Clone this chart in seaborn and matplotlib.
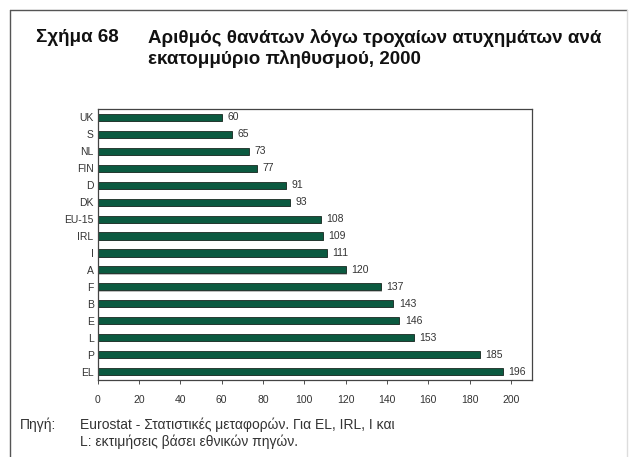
import matplotlib
matplotlib.use("Agg")
import matplotlib.pyplot as plt
import matplotlib.patheffects as pe
from matplotlib.lines import Line2D
import pandas as pd
import seaborn as sns

# Data
countries = ["UK", "S", "NL", "FIN", "D", "DK", "EU-15", "IRL", "I", "A",
             "F", "B", "E", "L", "P", "EL"]
deaths = [60, 65, 73, 77, 91, 93, 108, 109, 111, 120,
          137, 143, 146, 153, 185, 196]
x_ticks = [0, 20, 40, 60, 80, 100, 120, 140, 160, 180, 200]

title_num = "Σχήμα 68"
title_text = "Αριθμός θανάτων λόγω τροχαίων ατυχημάτων ανά\nεκατομμύριο πληθυσμού, 2000"
source_label = "Πηγή:"
source_text = "Eurostat - Στατιστικές μεταφορών. Για EL, IRL, I και\nL: εκτιμήσεις βάσει εθνικών πηγών."

df = pd.DataFrame({"country": countries, "deaths": deaths})

sns.set_theme(style="white")
plt.rcParams["font.family"] = ["Liberation Sans", "DejaVu Sans"]

fig = plt.figure(figsize=(6.29, 4.57), dpi=100)
ax = fig.add_axes([0.1553, 0.1685, 0.69, 0.593])

sns.barplot(data=df, x="deaths", y="country", order=countries, orient="h",
            color="#0b5a40", saturation=1, width=0.42, ax=ax,
            edgecolor="#1a2a22", linewidth=0.6)

for bar in ax.patches:
    bar.set_path_effects([pe.SimplePatchShadow(offset=(0.6, -0.8),
                                               shadow_rgbFace="#bdbdbd", alpha=1),
                          pe.Normal()])

for cont in ax.containers:
    ax.bar_label(cont, labels=[str(v) for v in deaths], padding=4,
                 fontsize=7.5, color="#333333")

ax.set_xlim(0, 210)
ax.set_ylim(15.5, -0.5)
ax.set_xticks(x_ticks)
ax.set_xlabel("")
ax.set_ylabel("")
ax.tick_params(axis="both", labelsize=7.5, colors="#333333", length=3,
               width=0.6, direction="out")
ax.tick_params(axis="x", pad=8)
ax.tick_params(axis="y", length=0, pad=3)
ax.xaxis.set_ticks_position("bottom")
for s in ax.spines.values():
    s.set_color("#444444")
    s.set_linewidth(0.9)

# outer frame
fw, fh = 629, 457
frame_kw = dict(transform=fig.transFigure, linewidth=1.0)
fig.add_artist(Line2D([10 / fw, 10 / fw], [0, 1 - 10 / fh], color="#555555", **frame_kw))
fig.add_artist(Line2D([10 / fw, 627 / fw], [1 - 10 / fh, 1 - 10 / fh], color="#555555", **frame_kw))
fig.add_artist(Line2D([627 / fw, 627 / fw], [0, 1 - 10 / fh], color="#dddddd", **frame_kw))

fig.text(36 / fw, 1 - 29 / fh, title_num, fontsize=13.5, fontweight="bold",
         va="top", ha="left", color="#111111")
fig.text(148 / fw, 1 - 29 / fh, title_text, fontsize=13.5, fontweight="bold",
         va="top", ha="left", color="#111111", linespacing=1.2)

fig.text(20 / fw, 1 - 418 / fh, source_label, fontsize=10, va="top",
         ha="left", color="#333333")
fig.text(80 / fw, 1 - 418 / fh, source_text, fontsize=10, va="top",
         ha="left", color="#333333", linespacing=1.15)

fig.savefig("out.png", dpi=100)
